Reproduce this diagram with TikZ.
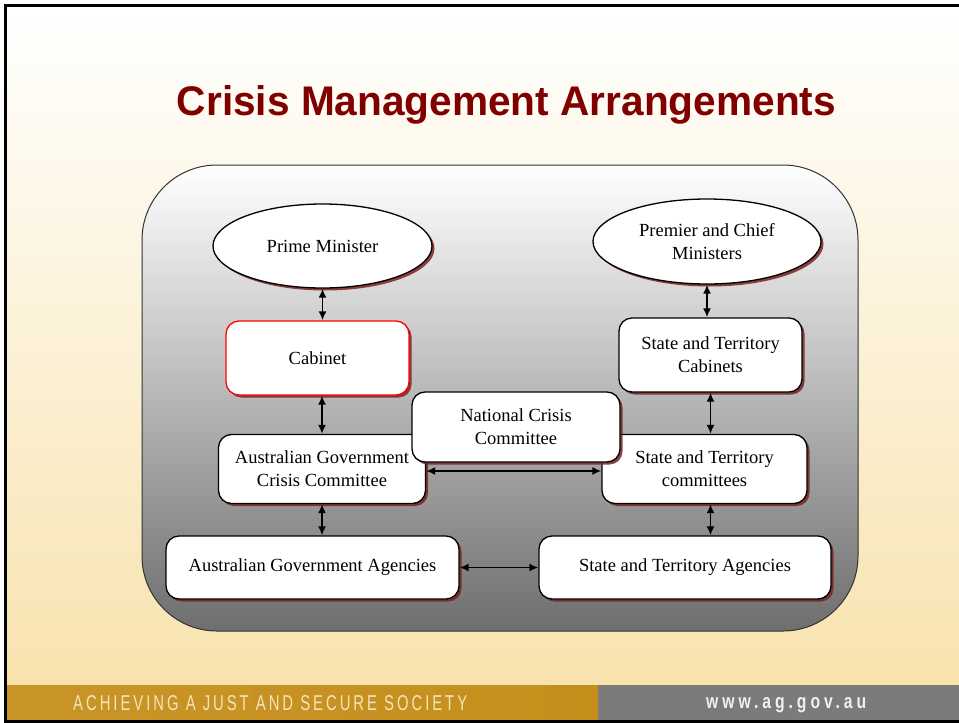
\documentclass[tikz,border=0pt]{standalone}
\usepackage{fontspec}
\setmainfont{Liberation Serif}
\newfontfamily\slidefont{Liberation Sans}
\usetikzlibrary{shapes.geometric,arrows.meta,shadows}
\definecolor{titlered}{HTML}{800000}
\definecolor{bgyellow}{HTML}{F8E3AE}
\definecolor{bandgray}{HTML}{7C7B79}
\definecolor{footcream}{HTML}{F4E4BC}
\definecolor{shadowred}{HTML}{7A2222}
\begin{document}
\begin{tikzpicture}[x=1pt,y=-1pt,
    box/.style={draw, line width=1.3pt, fill=white, rounded corners=13pt, align=center,
      inner sep=0pt, font=\fontsize{18.5}{23}\selectfont,
      drop shadow={shadow xshift=2.5pt, shadow yshift=-2.5pt, fill=shadowred, opacity=0.85}},
    oval/.style={box, ellipse, sharp corners},
    link/.style={<->, >={Latex[length=9pt,width=8pt]}, line width=1.9pt}]
  \useasboundingbox (0,0) rectangle (959,723);
  % slide background
  \shade[top color=white, bottom color=bgyellow] (5,5) rectangle (959,685);
  \shade[left color={rgb,255:red,200;green,149;blue,40}, middle color={rgb,255:red,214;green,164;blue,56},
    right color={rgb,255:red,198;green,143;blue,28}] (5,685) rectangle (598,720);
  \fill[bandgray] (598,685) rectangle (959,720);
  \draw[line width=3pt] (959,5) -- (5,5) -- (5,721) -- (959,721);
  \node[anchor=base, inner sep=0pt, text=titlered] (title) at (506.5,115)
    {\resizebox{659pt}{30pt}{\slidefont\bfseries Crisis Management Arrangements}};
  \node[anchor=base west, inner sep=0pt, text=footcream] (motto) at (73,710)
    {\resizebox{394pt}{15pt}{\slidefont\addfontfeatures{LetterSpace=20}ACHIEVING A JUST AND SECURE SOCIETY}};
  \node[anchor=base west, inner sep=0pt, text=white!94!black] (web) at (706,708)
    {\resizebox{160pt}{11pt}{\slidefont\bfseries\addfontfeatures{LetterSpace=25}www.ag.gov.au}};
  % panel
  \shade[top color=white, middle color=black!22, bottom color=black!57, draw=black!80, line width=1pt,
    rounded corners=75pt] (142,165) rectangle (858,631);
  % nodes
  \node[oval, minimum width=219, minimum height=84] (pm) at (322.5,246) {Prime Minister};
  \node[oval, minimum width=228, minimum height=85] (prem) at (707,241.5) {Premier and Chief\\Ministers};
  \node[box, draw=red, minimum width=183, minimum height=74] (cab) at (317.5,358) {Cabinet};
  \node[box, minimum width=183, minimum height=74] (stcab) at (710.5,355) {State and Territory\\Cabinets};
  \node[box, minimum width=207, minimum height=69] (agcc) at (322,469) {Australian Government\\Crisis Committee};
  \node[box, minimum width=205, minimum height=69] (stc) at (704.5,469) {State and Territory\\committees};
  \node[box, minimum width=208, minimum height=70] (ncc) at (516,427) {National Crisis\\Committee};
  \node[box, minimum width=293, minimum height=63] (aga) at (312.5,567.5) {Australian Government Agencies};
  \node[box, minimum width=292, minimum height=63] (sta) at (685,567.5) {State and Territory Agencies};
  % links
  \draw[link] (pm.south) -- (pm.south |- cab.north);
  \draw[link] (agcc.north |- cab.south) -- (agcc.north);
  \draw[link] (agcc.south) -- (agcc.south |- aga.north);
  \draw[link] (prem.south) -- (prem.south |- stcab.north);
  \draw[link] (stcab.south) -- (stcab.south |- stc.north);
  \draw[link] (stcab.south |- stc.south) -- (stcab.south |- sta.north);
  \draw[link] ([yshift=-2pt]agcc.east) -- ([yshift=-2pt]stc.west);
  \draw[link] (aga) -- (sta);
\end{tikzpicture}
\end{document}
